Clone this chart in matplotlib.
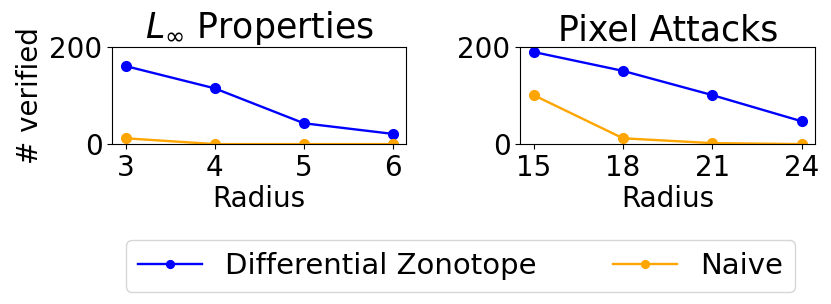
import matplotlib
matplotlib.use("Agg")
import matplotlib.pyplot as plt

linf_radius = [3, 4, 5, 6]
linf_diffzono = [161, 115, 43, 21]
linf_naive = [12, 0, 0, 0]

pixel_radius = [15, 18, 21, 24]
pixel_diffzono = [190, 151, 101, 47]
pixel_naive = [101, 12, 2, 0]

plt.rcParams["font.size"] = 20

fig = plt.figure(figsize=(8.31, 3.04), dpi=100)
ax1 = fig.add_axes([0.135, 0.526, 0.354, 0.319])
ax2 = fig.add_axes([0.626, 0.526, 0.355, 0.319])

for ax, x, dz, nv, title in [
    (ax1, linf_radius, linf_diffzono, linf_naive, r"$L_\infty$ Properties"),
    (ax2, pixel_radius, pixel_diffzono, pixel_naive, "Pixel Attacks"),
]:
    ax.plot(x, dz, "o-", color="blue", linewidth=1.7, markersize=7,
            label="Differential Zonotope")
    ax.plot(x, nv, "o-", color="orange", linewidth=1.7, markersize=7,
            label="Naive")
    ax.set_ylim(0, 200)
    ax.set_yticks([0, 200])
    ax.set_xticks(x)
    ax.set_xlabel("Radius", labelpad=2)
    ax.set_title(title, fontsize=25, pad=4)

ax1.set_ylabel("# verified")

handles, labels = ax1.get_legend_handles_labels()
fig.legend(handles, labels, loc="center", bbox_to_anchor=(0.554, 0.125), ncol=2,
           fontsize=21, columnspacing=2.6, handlelength=2.2, markerscale=0.8)

fig.savefig("out.png")
